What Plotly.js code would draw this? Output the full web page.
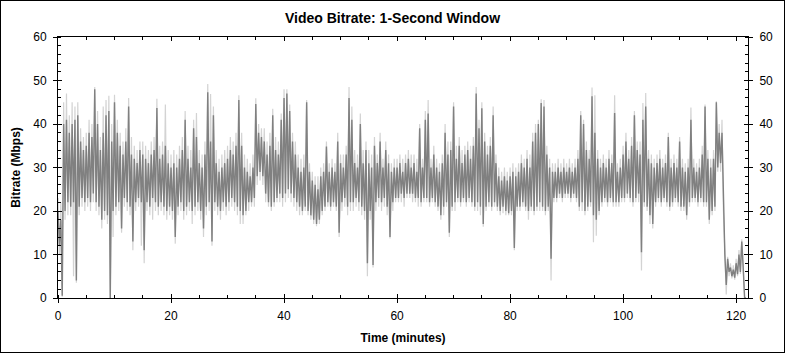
<!DOCTYPE html>
<html>
<head>
<meta charset="utf-8">
<script src="https://cdn.plot.ly/plotly-3.0.1.min.js"></script>
<style>
html,body{margin:0;padding:0;background:#fff;}
#chart{width:783px;height:351px;border:1px solid #000;}
</style>
</head>
<body>
<div id="chart"></div>
<script>
// Bin start (minutes) and width (minutes)
const binStart = 0;
const binWidth = 0.5;

// Dark series (1-second bitrate) : per-bin high / low, Mbps
const darkHigh = [
20,18,40,41,38,40,41,42,36,34,
35,38,37,48,40,34,38,42,43,36,
45,38,35,33,36,44,33,32,31,34,
33,32,31,33,34,43.7,32,33,35,31,
30,31,30,32,34,41,32,30,39,37,
31,30,33,47.3,36,42,31,29,30,31,
32,34,33,35,45.5,35,30,29,28,30,
44.6,38,37,36,33,35,42,34,33,41,
46,47,43,36,33,30,29,30,45,29,
27,26,25,28,29,34.8,29,30,29,36,
31,30,33,46,41,31,30,40,31,34,
31,30,35,31,36,30,34,31,29,30,
30,31,29,31,32,30,31,29,39,30,
41,42.4,30,33,30,29,31,38,33,34,
44,32,35,31,33,34,32,35,47,39,
43.6,36,33,35,42,31,28,27,28,27,
28,29,28,29,31,30,32,30,36,38,
40,44.8,44,33,30,29,29,30,29,30,
29,30,29,30,32,42,40,34,32,46.4,
38,32,30,31,30,32,31,42.5,29,30,
33,36,32,35,42,34,33,41,44,32,
31,30,31,32,30,31,37,30,31,30,
36,30,29,30,41,30,29,30,33,44,
32,30,32,45,38,38,10,9,7,6.5,
8,10,13,0
];
const darkLow = [
12,0.5,20,22,21,22,4,21,23,22,
23,22,24,22,21,18,20,19,0,20,
21,22,16,23,22,21,13,22,23,22,
11,22,21,23,22,21,22,21,20,21,
20,14,21,22,20,21,22,20,21,22,
20,16,21,22,13,22,21,20,22,21,
22,23,22,21,20,19,20,22,22,23,
28,29,28,24,22,21,22,23,24,23,
24,25,24,23,22,21,20,21,20,19,
18,17,18,20,21,22,21,22,21,15,
22,23,21,22,22,23,22,21,20,8,
20,7.6,22,23,22,23,21,14,22,23,
23,24,23,24,24,24,23,23,22,23,
23,22,23,22,21,19,21,22,15,21,
22,23,22,23,22,23,22,21,22,21,
17,21,22,21,22,21,20,21,20,19.5,
20,11.5,21,21,22,21,20,21,20,21,
22,21,20,21,9,23,23,24,23,24,
24,23,24,23,21,22,20,21,22,19,
18,20,22,23,22,23,22,22,22,23,
23,24,23,22,23,24,10.5,22,21,19,
17,22,23,22,23,22,21,22,23,22,
21,21,19,22,23,23,22,23,22,22,
18,20,21,30,31,23,3,6,5,4.7,
5.5,6,7,0
];

// Light series (envelope) : per-bin high / low, Mbps
const lightHigh = [
23,22,45,47,42,45,44,45,39,37,
38,41,40,48.5,43,37,44,45.5,46.5,40,
46.7,41,38,36,39,46,37,35,34,36,
36,35,34,36,37,45.8,35,36,44.5,34,
33,34,33,35,37,43,35,34,41,42.5,
34,33,36,49.2,46.9,44,34,32,33,34,
35,37,36,38,46.6,38,33,32,31,33,
45.9,40,39,39,36,38,43.5,37,36,42.4,
48,48,44.5,38,36,33,32,33,45.5,31,
29,28,28,30,31,36,31,32,31,38,
33,33,35,48.5,44,34,33,42.4,34,36,
34,33,37,33,38,32,36,33,31,32,
32,33,32,33,34,33,33,32,40,32,
43,45.5,32,35,32,31,33,40,36,36,
45,35,37,34,35,36,35,37,48.5,41,
45,38,35,37,44,33,30,29,30,29,
30,31,30,31,33,32,34,33,38,40,
41,45.7,45.5,35,32,31,31,32,31,32,
31,32,31,32,34,43,41,36,34,48.4,
46.6,34,32,33,32,34,33,46.6,31,32,
35,38,34,37,43,36,36,44.8,47.1,34,
33,32,33,34,32,33,38,32,33,32,
37,32,31,32,43.8,32,31,32,35,44.5,
34,32,34,45.2,40,41,11,9.5,8,7.5,
9,11,13.5,0
];
const lightLow = [
10,0.3,18,19,19,5,3.5,19,21,20,
21,20,22,20,19,16,18,17,0,14,
19,20,15,21,20,19,11,20,21,12,
8,20,19,18,20,19,20,19,18,19,
18,12.5,19,20,18,19,20,17,19,20,
18,14,19,20,12,20,19,18,20,19,
20,21,20,19,17,17,19,20,21,21,
26,27,26,22,21,20,21,22,22,21,
22,23,22,21,20,19,19,20,19,18,
17,16.5,17,19,20,21,20,21,20,14,
20,21,19,20,20,21,20,19,18,5,
18,7,20,21,20,21,19,13.7,20,22,
22,22,21,23,23,22,22,21,21,22,
22,21,22,21,20,18,19,21,14,20,
20,22,21,22,21,22,21,20,20,19,
16.4,20,21,20,21,20,19,19.5,19,19,
19,11,20,20,21,20,18,20,19,20,
20,20,19,20,4,22,22,23,22,23,
23,22,23,22,20,20,19,20,21,12.8,
14.3,19,21,22,21,22,21,21,21,22,
22,23,22,21,22,22,6.3,21,20,17,
16,21,22,21,22,21,20,21,22,21,
20,20,18,21,22,22,21,22,21,21,
17,19,20,29,29,20,0.8,5,4.5,4.2,
5,5.5,6,0
];

const xTickVals = [0,20,40,60,80,100,120];
const yTickVals = [0,10,20,30,40,50,60];

function zigzag(hi, lo) {
  const x = [], y = [];
  for (let i = 0; i < hi.length; i++) {
    const t = binStart + i * binWidth;
    x.push(t); y.push(hi[i]);
    x.push(t + binWidth / 2); y.push(lo[i]);
  }
  return {x, y};
}

const L = zigzag(lightHigh, lightLow);
const D = zigzag(darkHigh, darkLow);

const font = {family: 'Arial, "Liberation Sans", sans-serif', size: 12, color: '#000'};
const XR = [0, 122.1];
const YR = [0, 60];

const traces = [
  {x: L.x, y: L.y, type: 'scatter', mode: 'lines', line: {color: '#d3d3d3', width: 1.2}, hoverinfo: 'skip', showlegend: false},
  {x: D.x, y: D.y, type: 'scatter', mode: 'lines', line: {color: '#808080', width: 1.4}, hoverinfo: 'skip', showlegend: false},
  {x: [null], y: [null], xaxis: 'x2', yaxis: 'y2', type: 'scatter', mode: 'lines', hoverinfo: 'skip', showlegend: false},
  {x: [null], y: [null], xaxis: 'x3', yaxis: 'y3', type: 'scatter', mode: 'lines', hoverinfo: 'skip', showlegend: false},
  {x: [null], y: [null], xaxis: 'x2', yaxis: 'y4', type: 'scatter', mode: 'lines', hoverinfo: 'skip', showlegend: false}
];

const common = {showgrid: false, zeroline: false, tickcolor: '#000', tickwidth: 1, linecolor: '#000', linewidth: 1, fixedrange: true, tickfont: font};

const layout = {
  width: 783, height: 351,
  margin: {l: 57, r: 36, t: 36, b: 54, pad: 0},
  paper_bgcolor: '#fff', plot_bgcolor: '#fff',
  font: font,
  title: {text: '<b>Video Bitrate: 1-Second Window</b>', font: {family: font.family, size: 14, color: '#000'}, x: 0.5, xanchor: 'center', y: 1 - 17/351, yanchor: 'middle'},
  xaxis: Object.assign({}, common, {
    range: XR, tickvals: xTickVals, ticks: 'outside', ticklen: 4, showline: true, ticklabelstandoff: 3,
    minor: {dtick: 5, tick0: 0, ticks: 'inside', ticklen: 3, tickcolor: '#000', tickwidth: 1, showgrid: false},
    title: {text: '<b>Time (minutes)</b>', font: {family: font.family, size: 12, color: '#000'}, standoff: 11}
  }),
  xaxis2: Object.assign({}, common, {
    range: XR, overlaying: 'x', anchor: 'y', side: 'bottom', tickvals: xTickVals, ticks: 'inside', ticklen: 4, showticklabels: false, showline: false
  }),
  xaxis3: Object.assign({}, common, {
    range: XR, overlaying: 'x', anchor: 'y', side: 'top', tickvals: xTickVals, ticks: 'inside', ticklen: 4, showticklabels: false, showline: true,
    minor: {dtick: 5, tick0: 0, ticks: 'inside', ticklen: 3, tickcolor: '#000', tickwidth: 1, showgrid: false}
  }),
  yaxis: Object.assign({}, common, {
    range: YR, tickvals: yTickVals, ticks: 'outside', ticklen: 4, showline: true, ticklabelstandoff: 4,
    minor: {dtick: 2, tick0: 0, ticks: 'inside', ticklen: 3, tickcolor: '#000', tickwidth: 1, showgrid: false},
    title: {text: '<b>Bitrate (Mbps)</b>', font: {family: font.family, size: 12, color: '#000'}, standoff: 10}
  }),
  yaxis2: Object.assign({}, common, {
    range: YR, overlaying: 'y', anchor: 'x', side: 'right', tickvals: yTickVals, ticks: 'outside', ticklen: 4, showline: true, showticklabels: true, ticklabelstandoff: 4,
    minor: {dtick: 2, tick0: 0, ticks: 'inside', ticklen: 3, tickcolor: '#000', tickwidth: 1, showgrid: false}
  }),
  yaxis3: Object.assign({}, common, {
    range: YR, overlaying: 'y', anchor: 'x', side: 'right', tickvals: yTickVals, ticks: 'inside', ticklen: 4, showline: false, showticklabels: false
  }),
  yaxis4: Object.assign({}, common, {
    range: YR, overlaying: 'y', anchor: 'x', side: 'left', tickvals: yTickVals, ticks: 'inside', ticklen: 4, showline: false, showticklabels: false
  })
};

Plotly.newPlot('chart', traces, layout, {displayModeBar: false, staticPlot: true});
</script>
</body>
</html>
